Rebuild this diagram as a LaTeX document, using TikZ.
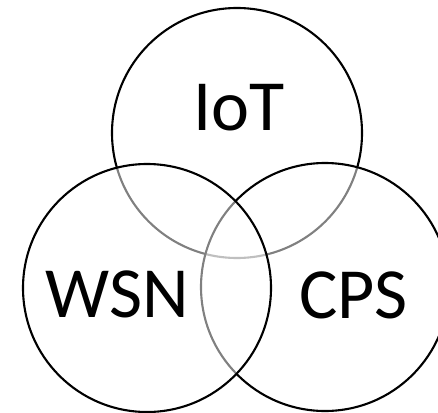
\documentclass[tikz,border=0pt]{standalone}
\usepackage{fontspec}
\setmainfont{Carlito}
\begin{document}
\begin{tikzpicture}[x=1pt,y=-1pt,
  ring/.style={draw=black,line width=2.1pt},
  veil/.style={ring,fill=white,fill opacity=0.5},
  lbl/.style={anchor=base,inner sep=0pt,font=\fontsize{72}{72}\selectfont}]
\useasboundingbox (0,0) rectangle (438,412);
\draw[ring] (237,133) circle[radius=125];
\draw[veil] (325,287) circle[radius=124];
\draw[veil] (147,288) circle[radius=124];
\node[lbl] (iot) at (239,130) {IoT};
\node[lbl] (wsn) at (117.5,317) {WSN};
\node[lbl] (cps) at (353.5,318) {CPS};
\end{tikzpicture}
\end{document}
